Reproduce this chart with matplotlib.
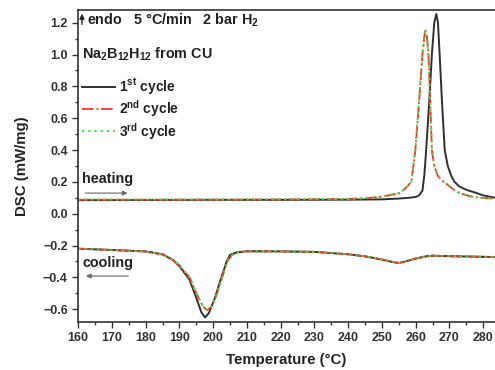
import matplotlib.pyplot as plt

plt.rcParams['font.family'] = ['Liberation Sans', 'DejaVu Sans']
plt.rcParams['font.weight'] = 'bold'
plt.rcParams['mathtext.fontset'] = 'custom'
plt.rcParams['mathtext.rm'] = 'Liberation Sans:bold'
plt.rcParams['mathtext.it'] = 'Liberation Sans:bold'
plt.rcParams['mathtext.bf'] = 'Liberation Sans:bold'

# heating, 1st cycle
heat1_T = [160, 180, 200, 220, 240, 250, 255, 258, 260, 261, 262, 262.6, 263.1, 264, 264.8,
           265.5, 266.1, 266.6, 267.1, 267.8, 268.6, 269.5, 270.5, 271.5, 273, 275, 278, 280, 283.5]
heat1_Y = [0.085, 0.086, 0.087, 0.087, 0.088, 0.09, 0.095, 0.1, 0.105, 0.115, 0.145, 0.25, 0.4,
           0.7, 1.0, 1.2, 1.255, 1.2, 1.0, 0.7, 0.4, 0.3, 0.24, 0.2, 0.17, 0.15, 0.13, 0.115, 0.1]

# heating, 2nd and 3rd cycle
heat2_T = [160, 180, 200, 220, 240, 245, 249.3, 252, 255.3, 257, 258.7, 259.9, 261, 262, 262.8,
           263.3, 263.8, 264.3, 264.8, 265.5, 266.5, 267.6, 269, 271, 273, 276, 279, 283.5]
heat2_Y = [0.088, 0.088, 0.088, 0.089, 0.092, 0.097, 0.105, 0.115, 0.13, 0.16, 0.2, 0.4, 0.7,
           1.0, 1.16, 1.12, 1.0, 0.7, 0.4, 0.3, 0.24, 0.21, 0.19, 0.155, 0.13, 0.11, 0.1, 0.095]
heat3_T = heat2_T
heat3_Y = [0.089, 0.089, 0.089, 0.09, 0.093, 0.098, 0.106, 0.116, 0.13, 0.16, 0.2, 0.41, 0.71,
           1.0, 1.15, 1.11, 0.99, 0.7, 0.4, 0.3, 0.24, 0.21, 0.19, 0.155, 0.13, 0.11, 0.1, 0.095]

# cooling, 1st cycle
cool1_T = [160, 170, 180, 185, 188, 190, 193, 195, 196.5, 197.6, 198.7, 200.5, 202.2, 204, 205,
           207, 210, 220, 230, 240, 245, 250, 253, 255, 257, 260, 263, 265, 270, 280, 283.5]
cool1_Y = [-0.22, -0.228, -0.237, -0.255, -0.29, -0.33, -0.415, -0.53, -0.62, -0.652, -0.625,
           -0.53, -0.415, -0.3, -0.258, -0.243, -0.236, -0.237, -0.24, -0.255, -0.268, -0.288,
           -0.303, -0.31, -0.3, -0.282, -0.268, -0.264, -0.267, -0.271, -0.273]

# cooling, 2nd and 3rd cycle
cool2_T = [160, 170, 180, 185, 188, 190, 193, 195, 197, 198.2, 199.5, 201, 202.5, 204.2, 205.5,
           207.5, 210, 220, 230, 240, 245, 250, 253, 255, 257, 260, 263, 265, 270, 280, 283.5]
cool2_Y = [-0.22, -0.228, -0.238, -0.257, -0.29, -0.325, -0.4, -0.5, -0.585, -0.605, -0.585,
           -0.51, -0.41, -0.3, -0.26, -0.243, -0.237, -0.237, -0.24, -0.255, -0.268, -0.288,
           -0.303, -0.31, -0.3, -0.282, -0.268, -0.264, -0.267, -0.271, -0.273]
cool3_T = cool2_T
cool3_Y = cool2_Y

labels = ['1$^{\\rm st}$ cycle', '2$^{\\rm nd}$ cycle', '3$^{\\rm rd}$ cycle']

fig = plt.figure(figsize=(4.95, 3.7), dpi=100)
ax = fig.add_axes([0.158, 0.13, 0.842, 0.843])

c1, c2, c3 = '#303030', '#ff3030', '#40e040'
ax.plot(heat1_T, heat1_Y, color=c1, lw=1.4, label=labels[0])
ax.plot(heat2_T, heat2_Y, color=c2, lw=1.3, ls='-.', label=labels[1])
ax.plot(heat3_T, heat3_Y, color=c3, lw=1.5, ls=(0, (1, 2)), label=labels[2])
ax.plot(cool1_T, cool1_Y, color=c1, lw=1.4)
ax.plot(cool2_T, cool2_Y, color=c2, lw=1.3, ls='-.')
ax.plot(cool3_T, cool3_Y, color=c3, lw=1.5, ls=(0, (1, 2)))

ax.set_xlim(160, 283.5)
ax.set_ylim(-0.68, 1.28)
ax.set_xticks(range(160, 281, 10))
ax.set_xticks(range(165, 285, 10), minor=True)
ax.set_yticks([-0.6, -0.4, -0.2, 0.0, 0.2, 0.4, 0.6, 0.8, 1.0, 1.2])
ax.set_yticks([-0.5, -0.3, -0.1, 0.1, 0.3, 0.5, 0.7, 0.9, 1.1], minor=True)
ax.tick_params(which='major', length=4, width=1, labelsize=9, colors='#333333', labelcolor='#333333')
ax.tick_params(which='minor', length=2.5, width=1, colors='#333333')
for s in ax.spines.values():
    s.set_linewidth(1.2)
    s.set_color('#333333')
ax.spines['right'].set_visible(False)

ax.set_xlabel('Temperature (°C)', fontsize=10.8, fontweight='bold', color='#222222', labelpad=6.5)
ax.set_ylabel('DSC (mW/mg)', fontsize=10.8, fontweight='bold', color='#222222', labelpad=10)

fs = 10.4
ax.annotate('', xy=(0.009, 0.997), xytext=(0.009, 0.945), xycoords='axes fraction',
            arrowprops=dict(arrowstyle='-|>', color='#222222', lw=1, mutation_scale=7))
ax.text(0.02, 0.968, 'endo   5 °C/min   2 bar H$_2$', transform=ax.transAxes,
        fontsize=fs, va='center', color='#222222')
ax.text(0.01, 0.857, 'Na$_2$B$_{12}$H$_{12}$ from CU', transform=ax.transAxes,
        fontsize=fs, va='center', color='#222222')

ax.legend(loc='upper left', bbox_to_anchor=(-0.005, 0.805), frameon=False, fontsize=10,
          handlelength=2.4, handletextpad=0.28, labelspacing=0.1, borderaxespad=0,
          labelcolor='#222222')

ax.text(0.01, 0.458, 'heating', transform=ax.transAxes, fontsize=fs, va='center', color='#222222')
ax.annotate('', xy=(0.125, 0.413), xytext=(0.01, 0.413), xycoords='axes fraction',
            arrowprops=dict(arrowstyle='-|>', color='#666666', lw=0.8, mutation_scale=7))
ax.text(0.01, 0.19, 'cooling', transform=ax.transAxes, fontsize=fs, va='center', color='#222222')
ax.annotate('', xy=(0.012, 0.147), xytext=(0.127, 0.147), xycoords='axes fraction',
            arrowprops=dict(arrowstyle='-|>', color='#666666', lw=0.8, mutation_scale=7))

fig.savefig('out.png', dpi=100)
